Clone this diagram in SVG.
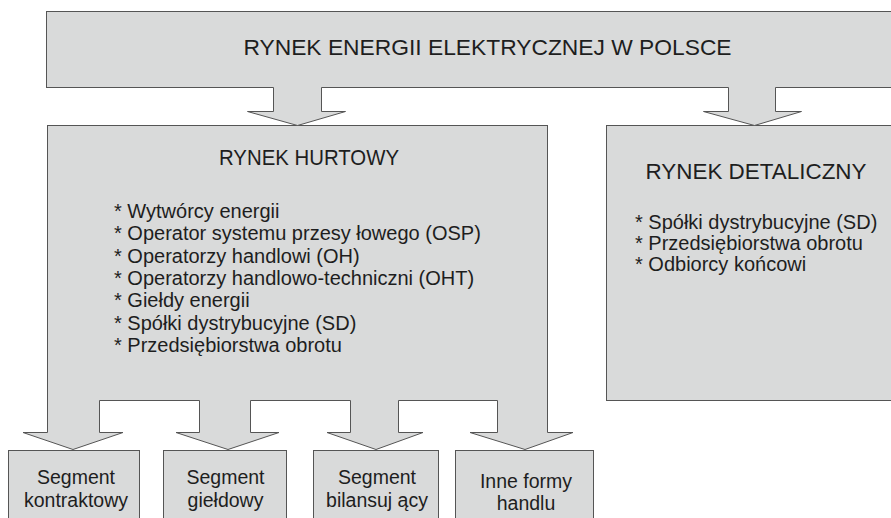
<svg xmlns="http://www.w3.org/2000/svg" width="891" height="518" viewBox="0 0 891 518">
<defs>
<style>
.box{fill:#d9dada;stroke:#555;stroke-width:1}
.af{fill:#d9dada;stroke:none}
.ao{fill:none;stroke:#555;stroke-width:1;stroke-linejoin:miter}
text{font-family:"Liberation Sans",Arial,sans-serif;fill:#1e1e1e}
.t1{font-size:22.8px;text-anchor:middle}
.t2{font-size:21.5px;text-anchor:middle}
.li{font-size:20px}
.sg{font-size:19.5px;text-anchor:middle}
</style>
</defs>
<rect width="891" height="518" fill="#ffffff"/>
<g id="rynek-energii">
<rect class="box" x="46.5" y="11.5" width="860" height="76"/>
<text class="t1" x="487.5" y="55">RYNEK ENERGII ELEKTRYCZNEJ W POLSCE</text>
</g>
<g id="rynek-hurtowy">
<rect class="box" x="47.5" y="125.5" width="500" height="275"/>
<text class="t2" x="309" y="165" textLength="180" lengthAdjust="spacingAndGlyphs">RYNEK HURTOWY</text>
<text class="li" x="114" y="218">* Wytwórcy energii</text>
<text class="li" x="114" y="240.3">* Operator systemu przesy łowego (OSP)</text>
<text class="li" x="114" y="262.7">* Operatorzy handlowi (OH)</text>
<text class="li" x="114" y="285">* Operatorzy handlowo-techniczni (OHT)</text>
<text class="li" x="114" y="307.3">* Giełdy energii</text>
<text class="li" x="114" y="329.7">* Spółki dystrybucyjne (SD)</text>
<text class="li" x="114" y="352">* Przedsiębiorstwa obrotu</text>
</g>
<g id="rynek-detaliczny">
<rect class="box" x="606.5" y="125.5" width="300" height="275"/>
<text class="t2" x="756" y="179" textLength="221" lengthAdjust="spacingAndGlyphs">RYNEK DETALICZNY</text>
<text class="li" x="635" y="228.5">* Spółki dystrybucyjne (SD)</text>
<text class="li" x="635" y="249.5">* Przedsiębiorstwa obrotu</text>
<text class="li" x="635" y="270.5">* Odbiorcy końcowi</text>
</g>
<g id="segment-kontraktowy">
<rect class="box" x="8.5" y="450.5" width="131" height="80"/>
<text class="sg" x="76" y="483.5">Segment</text>
<text class="sg" x="76" y="506.5">kontraktowy</text>
</g>
<g id="segment-gieldowy">
<rect class="box" x="163.5" y="450.5" width="123" height="80"/>
<text class="sg" x="225.5" y="483.5">Segment</text>
<text class="sg" x="225.5" y="506.5">giełdowy</text>
</g>
<g id="segment-bilansujacy">
<rect class="box" x="313.5" y="450.5" width="125" height="80"/>
<text class="sg" x="377" y="483.5">Segment</text>
<text class="sg" x="377" y="506.5">bilansuj ący</text>
</g>
<g id="inne-formy-handlu">
<rect class="box" x="455.5" y="450.5" width="138" height="80"/>
<text class="sg" x="526" y="487.5">Inne formy</text>
<text class="sg" x="526" y="509.5">handlu</text>
</g>
<g id="connectors">
<!-- top to hurtowy -->
<polygon class="af" points="273.5,86 321.5,86 321.5,111.5 345.5,111.5 297.5,125.5 247.5,111.5 273.5,111.5"/>
<polyline class="ao" points="273.5,87.5 273.5,111.5 247.5,111.5 297.5,125.5 345.5,111.5 321.5,111.5 321.5,87.5"/>
<!-- top to detaliczny -->
<polygon class="af" points="728.5,86 775.5,86 775.5,111.5 801.5,111.5 754.5,125.5 703.5,111.5 728.5,111.5"/>
<polyline class="ao" points="728.5,87.5 728.5,111.5 703.5,111.5 754.5,125.5 801.5,111.5 775.5,111.5 775.5,87.5"/>
<!-- hurtowy to segments -->
<polygon class="af" points="48,399 99.5,399 99.5,432.5 123,432.5 73,449.5 23,432.5 48,432.5"/>
<polyline class="ao" points="47.5,400 47.5,432.5 23,432.5 73,449.5 123,432.5 99.5,432.5 99.5,400.5"/>
<polygon class="af" points="199.5,399 250.5,399 250.5,432.5 279,432.5 228,449.5 176,432.5 199.5,432.5"/>
<polyline class="ao" points="199.5,400.5 199.5,432.5 176,432.5 228,449.5 279,432.5 250.5,432.5 250.5,400.5"/>
<polygon class="af" points="350.5,399 398.5,399 398.5,432.5 423,432.5 376,449.5 327,432.5 350.5,432.5"/>
<polyline class="ao" points="350.5,400.5 350.5,432.5 327,432.5 376,449.5 423,432.5 398.5,432.5 398.5,400.5"/>
<polygon class="af" points="497.5,399 547,399 547,432.5 573,432.5 525,449.5 470,432.5 497.5,432.5"/>
<polyline class="ao" points="497.5,400.5 497.5,432.5 470,432.5 525,449.5 573,432.5 547.5,432.5 547.5,400"/>
</g>
</svg>
